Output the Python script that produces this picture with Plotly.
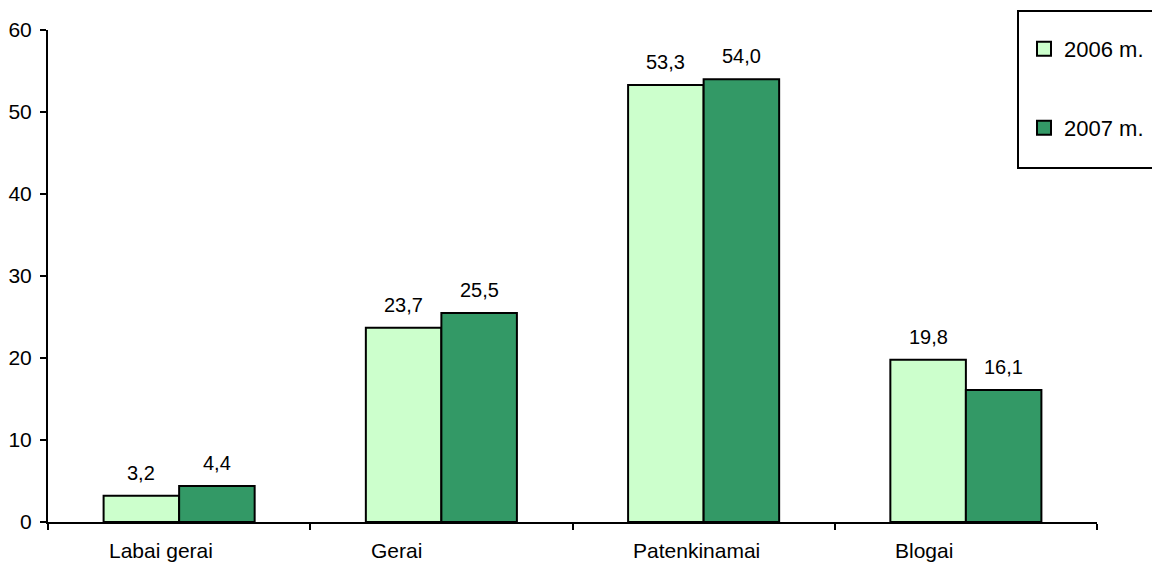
import plotly.graph_objects as go

categories = ["Labai gerai", "Gerai", "Patenkinamai", "Blogai"]
series_names = ["2006 m.", "2007 m."]
values_2006 = [3.2, 23.7, 53.3, 19.8]
values_2007 = [4.4, 25.5, 54.0, 16.1]
y_ticks = [0, 10, 20, 30, 40, 50, 60]

FONT = "Arial, Liberation Sans, sans-serif"
FS_LABEL = 20
FS_CAT = 21
FS_TICK = 21
FS_LEG = 22
colors = ["#CCFFCC", "#339966"]

# page body has an 8px margin, so the figure sits at (8, 8)
W, H = 1152, 555
ML, MR, MT, MB = 40, 63, 22, 41
plot_w = W - ML - MR
plot_h = H - MT - MB
bargap = 0.424
bar_px = plot_w / len(categories) * (1 - bargap) / 2

fig = go.Figure()
series = [values_2006, values_2007]
for i, (name, vals) in enumerate(zip(series_names, series)):
    fig.add_trace(go.Bar(
        x=categories, y=vals, name=name,
        marker=dict(color=colors[i], line=dict(color="black", width=2)),
        showlegend=False,
        hoverinfo="skip",
    ))
# legend entries with larger square keys
for i, name in enumerate(series_names):
    fig.add_trace(go.Scatter(
        x=[None], y=[None], mode="markers", name=name,
        marker=dict(symbol="square", size=14, color=colors[i],
                    line=dict(color="black", width=2)),
        legend="legend" if i == 0 else "legend2",
        showlegend=True, hoverinfo="skip",
    ))

annotations = []
for i, vals in enumerate(series):
    shift = (-0.5 if i == 0 else 0.5) * bar_px
    for c, v in zip(categories, vals):
        annotations.append(dict(
            x=c, y=v, xref="x", yref="y",
            text=f"{v:.1f}".replace(".", ","),
            showarrow=False, xanchor="center", yanchor="bottom",
            xshift=shift, yshift=10,
            font=dict(family=FONT, size=FS_LABEL, color="black"),
        ))
# category labels (left-aligned near group start, as in the original)
for c in categories:
    annotations.append(dict(
        x=c, y=0, xref="x", yref="paper",
        text=c, showarrow=False, xanchor="left", yanchor="top",
        xshift=-bar_px + 3, yshift=-15,
        font=dict(family=FONT, size=FS_CAT, color="black"),
    ))

leg_x = (1024 - 8 - ML) / plot_w
fig.update_layout(
    width=W, height=H,
    margin=dict(l=ML, r=MR, t=MT, b=MB, pad=0, autoexpand=False),
    paper_bgcolor="white", plot_bgcolor="white",
    barmode="group", bargap=bargap, bargroupgap=0,
    font=dict(family=FONT, size=FS_LABEL, color="black"),
    annotations=annotations,
    showlegend=True,
    xaxis=dict(
        type="category", showline=True, linecolor="black", linewidth=2,
        ticks="outside", tickson="boundaries", ticklen=6, tickwidth=2, tickcolor="black",
        showgrid=False, zeroline=False, showticklabels=False, automargin=False,
    ),
    yaxis=dict(
        range=[0, 60], tickvals=y_ticks, showline=True, linecolor="black", linewidth=2,
        ticks="outside", ticklen=6, tickwidth=2, tickcolor="black",
        showgrid=False, zeroline=False, ticklabelstandoff=4, automargin=False,
        tickfont=dict(family=FONT, size=FS_TICK),
    ),
    legend=dict(x=leg_x, y=(H - MB - (49 - 8)) / plot_h,
                xanchor="left", yanchor="middle",
                bgcolor="rgba(0,0,0,0)", borderwidth=0,
                font=dict(family=FONT, size=FS_LEG)),
    legend2=dict(x=leg_x, y=(H - MB - (128 - 8)) / plot_h,
                 xanchor="left", yanchor="middle",
                 bgcolor="rgba(0,0,0,0)", borderwidth=0,
                 font=dict(family=FONT, size=FS_LEG)),
    shapes=[dict(type="rect", xref="paper", yref="paper",
                 x0=(1018 - 8 - ML) / plot_w, x1=1.3,
                 y0=(H - MB - (168 - 8)) / plot_h, y1=(H - MB - (11 - 8)) / plot_h,
                 line=dict(color="black", width=2), fillcolor="rgba(0,0,0,0)")],
)

fig.write_html("out.html")
